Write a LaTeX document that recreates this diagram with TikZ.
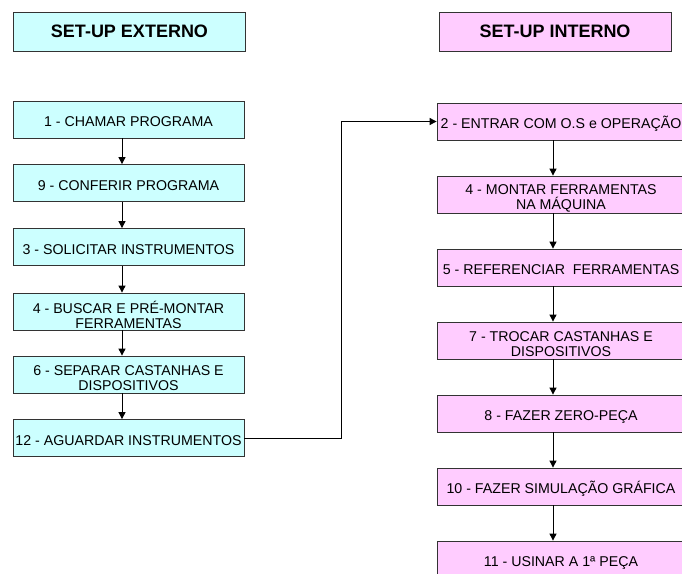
\documentclass[tikz,border=0pt]{standalone}
\usepackage{fontspec}
\setmainfont{Liberation Sans}
\usetikzlibrary{arrows.meta}
\definecolor{extc}{HTML}{CCFFFF}
\definecolor{intc}{HTML}{FFCCFF}
\definecolor{edgec}{HTML}{333333}
\begin{document}
\begin{tikzpicture}[x=1pt,y=-1pt,
  box/.style={draw=edgec,line width=0.8pt,inner sep=0pt,minimum height=37pt},
  extbox/.style={box,fill=extc,minimum width=231pt},
  intbox/.style={box,fill=intc,minimum width=248pt},
  hdr/.style={box,minimum width=232pt,minimum height=39pt,
    font=\fontsize{18}{20}\selectfont\bfseries},
  labone/.style={font=\fontsize{14.2}{15}\selectfont,inner sep=0pt,
    text height=10.2pt,text depth=0pt,yshift=-2pt},
  labtwo/.style={font=\fontsize{14.2}{15}\selectfont,inner sep=0pt,
    align=center,yshift=-3.5pt},
  arr/.style={draw=black,line width=0.9pt,-{Triangle[length=7pt,width=7pt]}}]
\useasboundingbox (0,0) rectangle (682,573);
\clip (0,0) rectangle (682,573);
% headers
\node[hdr,fill=extc] (hext) at (129.5,31.5) {SET-UP EXTERNO};
\node[hdr,fill=intc] (hint) at (555,31.5) {SET-UP INTERNO};
% external column
\node[extbox,label={[labone]center:1 - CHAMAR PROGRAMA}] (b1) at (128.5,119.5) {};
\node[extbox,label={[labone]center:9 - CONFERIR PROGRAMA}] (b9) at (128.5,183) {};
\node[extbox,label={[labone]center:3 - SOLICITAR INSTRUMENTOS}] (b3) at (128.5,247) {};
\node[extbox,label={[labtwo]center:4 - BUSCAR E PRÉ-MONTAR\\FERRAMENTAS}] (b4) at (128.5,311.5) {};
\node[extbox,label={[labtwo]center:6 - SEPARAR CASTANHAS E\\DISPOSITIVOS}] (b6) at (128.5,374.5) {};
\node[extbox,label={[labone]center:12 - AGUARDAR INSTRUMENTOS}] (b12) at (128.5,438) {};
% internal column
\node[intbox,label={[labone]center:2 - ENTRAR COM O.S e OPERAÇÃO}] (r2) at (561,121.5) {};
\node[intbox,label={[labtwo]center:4 - MONTAR FERRAMENTAS\\NA MÁQUINA}] (r4) at (561,194.5) {};
\node[intbox,label={[labone]center:5 - REFERENCIAR\ \ FERRAMENTAS}] (r5) at (561,267.5) {};
\node[intbox,label={[labtwo]center:7 - TROCAR CASTANHAS E\\DISPOSITIVOS}] (r7) at (561,340.5) {};
\node[intbox,label={[labone]center:8 - FAZER ZERO-PEÇA}] (r8) at (561,413.5) {};
\node[intbox,label={[labone]center:10 - FAZER SIMULAÇÃO GRÁFICA}] (r10) at (561,486.5) {};
\node[intbox,label={[labone]center:11 - USINAR A 1ª PEÇA}] (r11) at (561,559.5) {};
% connector guide coordinates
\coordinate (lx) at (122,0);
\coordinate (rx) at (553,0);
\coordinate (cx) at (341,0);
% external arrows
\draw[arr] (b1.south -| lx) -- (b9.north -| lx);
\draw[arr] (b9.south -| lx) -- (b3.north -| lx);
\draw[arr] (b3.south -| lx) -- (b4.north -| lx);
\draw[arr] (b4.south -| lx) -- (b6.north -| lx);
\draw[arr] (b6.south -| lx) -- (b12.north -| lx);
% internal arrows
\draw[arr] (r2.south -| rx) -- (r4.north -| rx);
\draw[arr] (r4.south -| rx) -- (r5.north -| rx);
\draw[arr] (r5.south -| rx) -- (r7.north -| rx);
\draw[arr] (r7.south -| rx) -- (r8.north -| rx);
\draw[arr] (r8.south -| rx) -- (r10.north -| rx);
\draw[arr] (r10.south -| rx) -- (r11.north -| rx);
% link between columns
\draw[arr] (b12.east) -- (b12.east -| cx) |- (r2.west);
\end{tikzpicture}
\end{document}
